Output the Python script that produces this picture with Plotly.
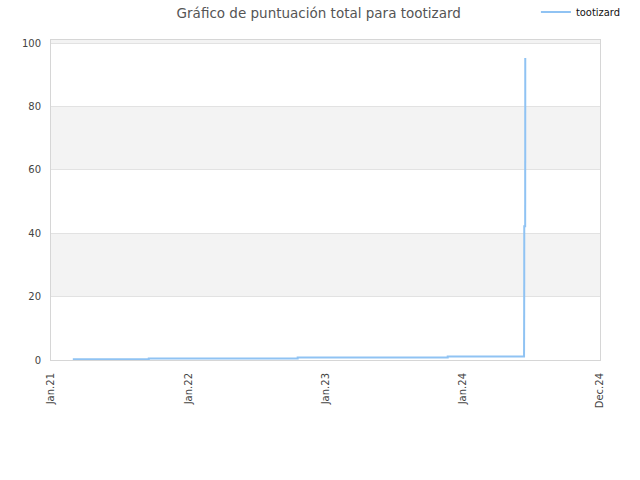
import plotly.graph_objects as go

# Cumulative score for tootizard
dates = [
    "2021-02-28", "2021-09-18", "2022-10-19", "2023-11-22",
    "2024-06-12 00:00", "2024-06-12 02:00", "2024-06-12 04:00", "2024-06-12 06:00",
    "2024-06-12 08:00", "2024-06-12 10:00", "2024-06-12 12:00", "2024-06-12 14:00",
    "2024-06-15 00:00", "2024-06-15 02:00", "2024-06-15 04:00", "2024-06-15 06:00",
]
scores = [
    0.25, 0.5, 0.8, 1.1,
    3.1, 6.8, 9.9, 13.7,
    18.7, 23.4, 35.4, 42.2,
    48.7, 62.5, 78.3, 95.3,
]

tick_vals = ["2021-01-01", "2022-01-01", "2023-01-01", "2024-01-01", "2024-12-31"]
tick_text = ["Jan.21", "Jan.22", "Jan.23", "Jan.24", "Dec.24"]

band_ranges = [(20, 40), (60, 80), (100, 101)]

fig = go.Figure()
fig.add_trace(go.Scatter(
    x=dates,
    y=scores,
    mode="lines",
    line=dict(color="#90c3f3", width=2, shape="hv"),
    name="tootizard",
))

# alternating grey bands behind the plot
for y0, y1 in band_ranges:
    fig.add_shape(type="rect", xref="paper", yref="y", x0=0, x1=1, y0=y0, y1=y1,
                  fillcolor="#f3f3f3", line=dict(width=0), layer="below")

fig.update_layout(
    width=640,
    height=480,
    margin=dict(l=51, r=40, t=40, b=120, autoexpand=False),
    paper_bgcolor="white",
    plot_bgcolor="white",
    font=dict(family="DejaVu Sans", size=10, color="#444444"),
    title=dict(
        text="Gráfico de puntuación total para tootizard",
        x=0.498, xanchor="center", y=0.973, yanchor="middle",
        font=dict(family="DejaVu Sans", size=13.5, color="#555555"),
    ),
    showlegend=True,
    legend=dict(
        xref="container", yref="container",
        x=0.978, xanchor="right", y=0.975, yanchor="middle",
        orientation="h", itemwidth=30,
        font=dict(family="DejaVu Sans Condensed", size=11, color="#111111"),
        bgcolor="rgba(0,0,0,0)",
    ),
    xaxis=dict(
        type="date",
        range=["2021-01-01", "2024-12-31"],
        tickvals=tick_vals,
        ticktext=tick_text,
        tickangle=-90,
        ticklabelstandoff=8,
        automargin=False,
        showgrid=False,
        showline=True,
        linecolor="#d6d6d6",
        linewidth=1,
        mirror=True,
        zeroline=False,
        ticks="",
    ),
    yaxis=dict(
        range=[0, 101],
        tickvals=[0, 20, 40, 60, 80, 100],
        ticklabelstandoff=7,
        automargin=False,
        showgrid=True,
        gridcolor="#e2e2e2",
        showline=True,
        linecolor="#d6d6d6",
        linewidth=1,
        mirror=True,
        zeroline=False,
        ticks="",
    ),
)

# drop the default page margin so the figure sits at the window's corner
fig.write_html(
    "out.html",
    config={"displayModeBar": False},
    post_script="document.body.style.margin='0';",
)
